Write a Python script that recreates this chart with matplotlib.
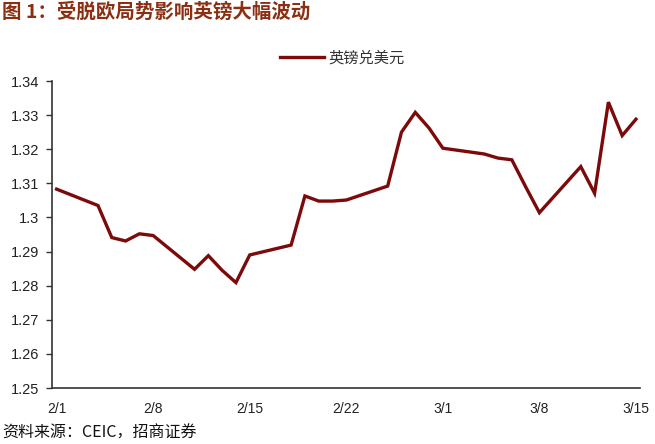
import matplotlib
matplotlib.use("Agg")
import matplotlib.pyplot as plt
import pandas as pd

plt.rcParams['font.family'] = ['Liberation Sans', 'Noto Sans CJK SC', 'DejaVu Sans']

dates = ["2019-02-01", "2019-02-04", "2019-02-05", "2019-02-06", "2019-02-07", "2019-02-08",
         "2019-02-11", "2019-02-12", "2019-02-13", "2019-02-14", "2019-02-15",
         "2019-02-18", "2019-02-19", "2019-02-20", "2019-02-21", "2019-02-22",
         "2019-02-25", "2019-02-26", "2019-02-27", "2019-02-28", "2019-03-01",
         "2019-03-04", "2019-03-05", "2019-03-06", "2019-03-07", "2019-03-08",
         "2019-03-11", "2019-03-12", "2019-03-13", "2019-03-14", "2019-03-15"]
gbpusd = [1.3083, 1.3035, 1.2941, 1.2931, 1.2952, 1.2947,
          1.2848, 1.2888, 1.2845, 1.2809, 1.2890,
          1.2919, 1.3063, 1.3048, 1.3048, 1.3051,
          1.3092, 1.3250, 1.3308, 1.3262, 1.3203,
          1.3186, 1.3174, 1.3169, 1.3090, 1.3014,
          1.3149, 1.3071, 1.3338, 1.3240, 1.3288]
tick_dates = ["2019-02-01", "2019-02-08", "2019-02-15", "2019-02-22", "2019-03-01", "2019-03-08", "2019-03-15"]
tick_labels = ["2/1", "2/8", "2/15", "2/22", "3/1", "3/8", "3/15"]
y_ticks = [1.25, 1.26, 1.27, 1.28, 1.29, 1.30, 1.31, 1.32, 1.33, 1.34]
series_name = "英镑兑美元"
title = "图 1：受脱欧局势影响英镑大幅波动"
source = "资料来源：CEIC，招商证券"

x = pd.to_datetime(dates)
fig = plt.figure(figsize=(6.55, 4.44), dpi=100)
ax = fig.add_axes([52/655, 1-388/444, (640-52)/655, (388-81)/444])

line_color = "#7C0A0A"
ax.plot(x, gbpusd, color=line_color, lw=2.4, solid_joinstyle='miter', label=series_name)

ax.set_ylim(1.25, 1.34)
ax.set_yticks(y_ticks)
ax.set_yticklabels([f"{v:g}" for v in y_ticks])
xt = pd.to_datetime(tick_dates)
ax.set_xlim(xt[0] - pd.Timedelta(hours=8), xt[-1] + pd.Timedelta(hours=7))
ax.set_xticks(xt)
ax.set_xticklabels(tick_labels)

for s in ['top', 'right']:
    ax.spines[s].set_visible(False)
for s in ['left', 'bottom']:
    ax.spines[s].set_color('#333333')
    ax.spines[s].set_linewidth(1.2)
ax.tick_params(axis='y', direction='out', length=4, width=1, color='#333333', labelsize=10.5, pad=5, labelcolor='#222222')
ax.tick_params(axis='x', length=0, labelsize=10, pad=10, labelcolor='#222222')

leg = ax.legend(loc='center', bbox_to_anchor=(0.494, 1.075), frameon=False,
                handlelength=2.9, handletextpad=0.3,
                prop={'family': ['Noto Sans CJK SC'], 'size': 11})
for t in leg.get_texts():
    t.set_color('#333333')

fig.text(2/655, 1-12/444, title, ha='left', va='center', fontsize=14, fontweight='bold',
         color='#8B2F12', family=['Noto Sans CJK SC', 'DejaVu Sans'])
fig.text(2/655, 1-433/444, source, ha='left', va='center', fontsize=11.5,
         color='#111111', family=['Noto Sans CJK SC', 'DejaVu Sans'])

fig.savefig("out.png", dpi=100)
